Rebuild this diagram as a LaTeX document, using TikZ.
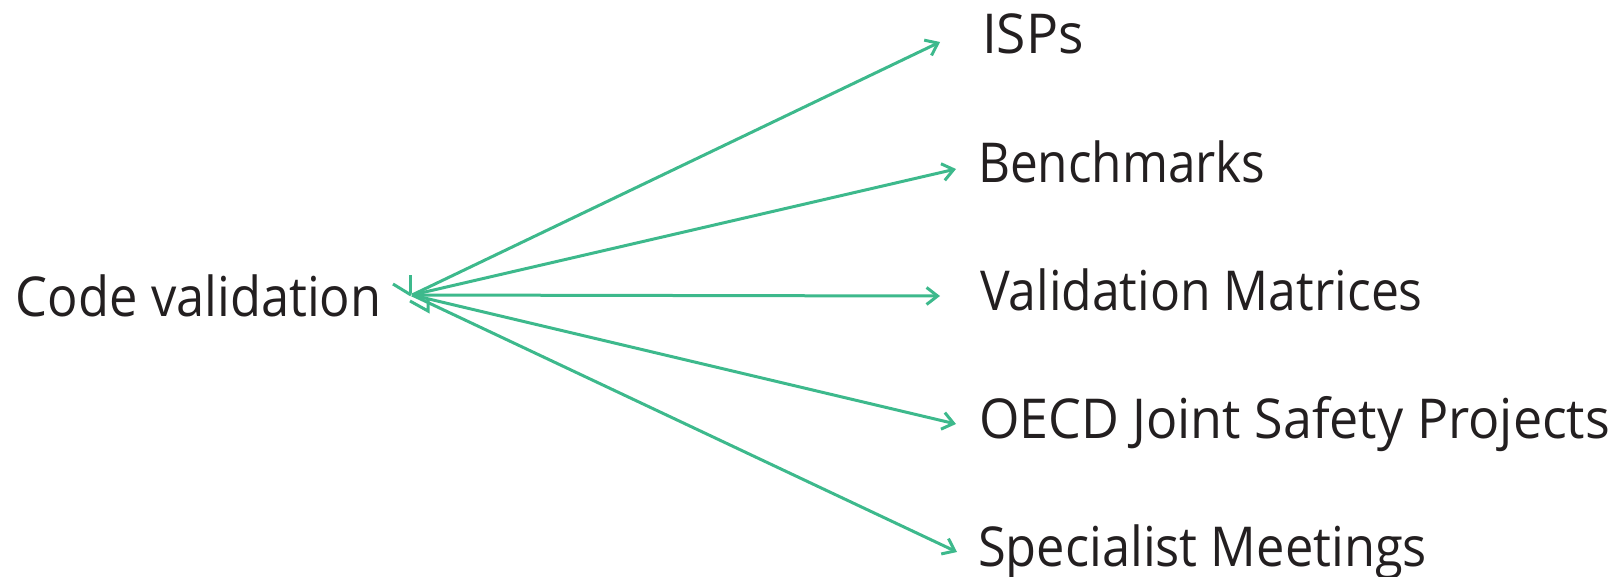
\documentclass[tikz,border=0pt]{standalone}
\usepackage{fontspec}
\setmainfont{Open Sans}
\usetikzlibrary{arrows.meta,calc}
\definecolor{linkgreen}{HTML}{3DB98C}
\definecolor{inkdark}{HTML}{231F20}
\newcommand{\squeeze}[2]{\scalebox{#1}[1]{#2}}
\begin{document}
\begin{tikzpicture}[x=1pt,y=-1pt,
  label text/.style={anchor=base west,inner sep=0pt,outer sep=0pt,text=inkdark,
    font=\fontsize{55}{60}\selectfont},
  link/.style={draw=linkgreen,line width=3pt,
    -{Straight Barb[length=11pt,width=17pt,line width=3pt]}},
  stray/.style={draw=linkgreen,line width=3pt}]
\useasboundingbox (0,0) rectangle (1613,576);
% labels
\node[label text] (src) at (16,316) {\squeeze{0.92}{Code validation}};
\node[label text] (isp) at (982,53) {\squeeze{0.97}{ISPs}};
\node[label text] (bench) at (978,182) {\squeeze{0.90}{Benchmarks}};
\node[label text] (valmat) at (980,310) {\squeeze{0.907}{Validation Matrices}};
\node[label text] (oecd) at (979,438) {\squeeze{0.945}{OECD Joint Safety Projects}};
\node[label text] (spec) at (978,566) {\squeeze{0.92}{Specialist Meetings}};
% hub and arrow tips
\coordinate (hub) at (412,295);
\coordinate (tisp) at (940,42);
\coordinate (tbench) at (956,169);
\coordinate (tval) at (940,296);
\coordinate (toecd) at (956,424);
\coordinate (tspec) at (957,552);
% connectors
\draw[link] (hub) -- (tisp);
\draw[link] (hub) -- (tbench);
\draw[link] (hub) -- (tval);
\draw[link] (hub) -- (toecd);
\draw[link] (hub) -- (tspec);
% small strokes around the hub
\draw[stray] ($(hub)+(-19,-11)$) -- ($(hub)+(-1,0)$);
\draw[stray] ($(hub)+(-2,-20)$) -- ($(hub)+(-2,-2)$);
\draw[stray] ($(hub)+(-2,6)$) -- ($(hub)+(16,16)$) -- ($(hub)+(16,5)$);
\end{tikzpicture}
\end{document}
